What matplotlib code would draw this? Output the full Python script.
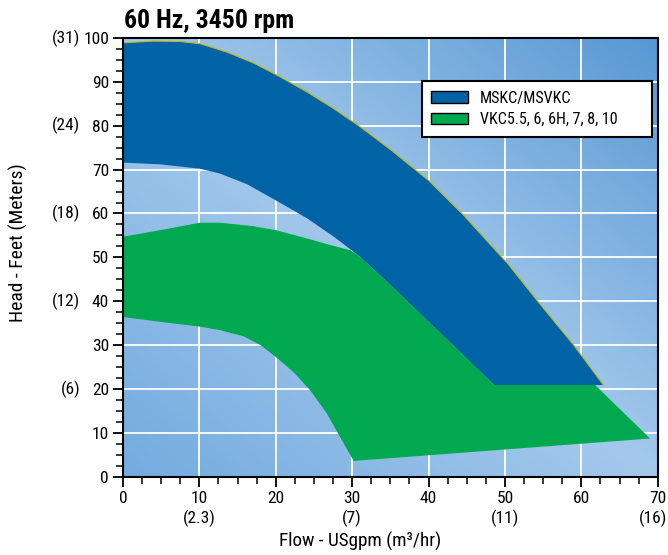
import numpy as np
import matplotlib
matplotlib.use("Agg")
import matplotlib.pyplot as plt
from matplotlib import font_manager
from matplotlib.colors import LinearSegmentedColormap
from matplotlib.patches import Polygon, Patch
from matplotlib.ticker import MultipleLocator
from matplotlib.transforms import offset_copy

# --- data (flow in USgpm, head in feet) ---
msk_top_flow = [0, 4.0, 7.5, 10.1, 13.6, 17.1, 20.0, 24.1, 27.6, 31.1, 35.0,
                40.1, 44.6, 50.4, 54.2, 59.0, 62.9]
msk_top_head = [98.9, 99.3, 99.2, 98.7, 96.8, 94.3, 91.7, 87.7, 83.9, 79.7, 74.6,
                67.4, 59.6, 48.5, 40.2, 30.0, 20.9]
msk_low_flow = [48.6, 42.0, 37.1, 34.3, 31.1, 29.8, 27.6, 24.1, 20.0, 16.2,
                12.7, 10.1, 4.9, 0]
msk_low_head = [20.9, 32.0, 40.2, 44.9, 50.0, 51.8, 54.7, 58.9, 63.0, 66.7,
                69.1, 70.2, 71.2, 71.6]

vkc_top_flow = [0, 4.9, 10.1, 12.7, 17.1, 20.0, 24.1, 27.6, 29.8]
vkc_top_head = [54.7, 56.2, 57.9, 57.9, 57.1, 56.2, 54.3, 52.6, 51.6]
vkc_right_flow = [61.8, 69.0]
vkc_right_head = [20.9, 8.7]
vkc_low_flow = [30.2, 28.4, 26.7, 24.5, 22.3, 20.0, 18.0, 15.8, 12.7, 10.1, 4.9, 0]
vkc_low_head = [3.6, 9.1, 14.4, 19.7, 23.9, 27.3, 30.0, 32.0, 33.4, 34.2, 35.3, 36.4]

series_labels = ["MSKC/MSVKC", "VKC5.5, 6, 6H, 7, 8, 10"]
series_colors = ["#0063a5", "#00a84f"]

head_metric = {100: "(31)", 80: "(24)", 60: "(18)", 40: "(12)", 20: "(6)"}
flow_metric = {10: "(2.3)", 30: "(7)", 50: "(11)", 70: "(16)"}

# pick a narrow sans if one is installed
installed = {f.name for f in font_manager.fontManager.ttflist}
narrow = "Liberation Sans"
for cand in ["Roboto Condensed", "Liberation Sans Narrow", "Arial Narrow"]:
    if cand in installed:
        narrow = cand
        break
plt.rcParams["font.family"] = [narrow, "DejaVu Sans"]

fig = plt.figure(figsize=(6.68, 5.55), dpi=100)
ax = fig.add_axes([0.1841, 0.1411, 0.8005, 0.7904])
ax.set_xlim(0, 70)
ax.set_ylim(0, 100)

# gradient background: light band along the top-left / bottom-right diagonal
u, v = np.meshgrid(np.linspace(0, 1, 300), np.linspace(0, 1, 300))
s = u + v - 1
bg_cmap = LinearSegmentedColormap.from_list(
    "bg", [(0.0, "#74abdf"), (0.5, "#a4c9ec"), (1.0, "#5898d3")])
ax.imshow(s, cmap=bg_cmap, vmin=-1, vmax=1, origin="lower",
          extent=[0, 70, 0, 100], aspect="auto", zorder=0)

ax.grid(True, color="white", linewidth=1.3, zorder=1)
ax.set_axisbelow(True)

# green band (VKC)
msk_lower_part = list(zip(msk_low_flow, msk_low_head))
green_pts = list(zip(vkc_top_flow, vkc_top_head))
green_pts += [p for p in msk_lower_part[::-1] if p[0] > vkc_top_flow[-1]]
green_pts += list(zip(vkc_right_flow, vkc_right_head))
green_pts += list(zip(vkc_low_flow, vkc_low_head))
ax.add_patch(Polygon(green_pts, closed=True, facecolor=series_colors[1],
                     edgecolor="none", zorder=2))

# blue band (MSKC)
blue_pts = list(zip(msk_top_flow, msk_top_head)) + msk_lower_part
ax.add_patch(Polygon(blue_pts, closed=True, facecolor=series_colors[0],
                     edgecolor="none", zorder=3))
ax.plot(msk_top_flow, msk_top_head, color="#c9b800", linewidth=0.8, zorder=4)

# axes styling
for side in ["left", "bottom", "top", "right"]:
    ax.spines[side].set_color("black")
    ax.spines[side].set_linewidth(1.5)
    ax.spines[side].set_zorder(5)
ax.xaxis.set_major_locator(MultipleLocator(10))
ax.xaxis.set_minor_locator(MultipleLocator(2.5))
ax.yaxis.set_major_locator(MultipleLocator(10))
ax.yaxis.set_minor_locator(MultipleLocator(2.5))
ax.tick_params(which="major", direction="out", length=7, width=1.3,
               labelsize=12.5, pad=3)
ax.tick_params(which="minor", direction="out", length=5, width=1.1)

for h, lab in head_metric.items():
    ax.text(-0.080, h, lab, transform=ax.get_yaxis_transform(),
            ha="right", va="center", fontsize=12.5)
for f, lab in flow_metric.items():
    tr = ax.get_xaxis_transform()
    if f == max(flow_metric):
        tr = offset_copy(tr, fig=fig, x=-5, y=0, units="dots")
    ax.text(f, -0.094, lab, transform=tr, ha="center", va="center",
            fontsize=12.5)

fig.text(0.185, 1 - 28 / 555, "60 Hz, 3450 rpm", fontsize=18.5,
         fontweight="bold", ha="left", va="baseline")
fig.text(18 / 668, 1 - 243 / 555, "Head - Feet (Meters)", rotation=90,
         fontsize=14, ha="center", va="center")
fig.text(360 / 668, 1 - 541 / 555, "Flow - USgpm (m³/hr)", fontsize=13.75,
         ha="center", va="center")

handles = [Patch(facecolor=c, edgecolor="black", linewidth=1.0) for c in series_colors]
leg = ax.legend(handles, series_labels, loc="upper left",
                bbox_to_anchor=(0.5586, 0.902, 0.4307, 0.0), mode="expand",
                borderaxespad=0, fancybox=False, framealpha=1, edgecolor="black",
                fontsize=11.5, handlelength=2.3, handleheight=0.75,
                handletextpad=0.75, borderpad=0.6, labelspacing=0.4)
leg.get_frame().set_linewidth(1.5)
leg.set_zorder(6)

fig.savefig("out.png", dpi=100)
